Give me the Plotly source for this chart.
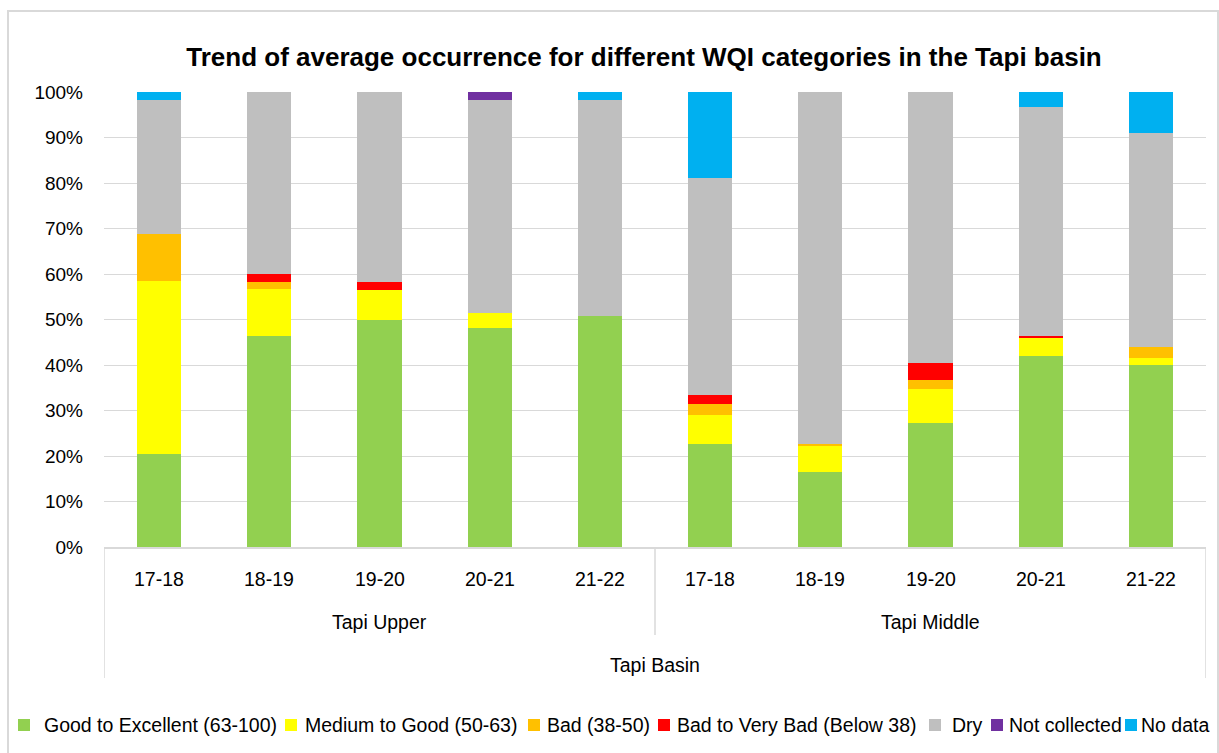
import plotly.graph_objects as go

# ---------------- data ----------------
years = ["17-18", "18-19", "19-20", "20-21", "21-22"] * 2
groups = ["Tapi Upper", "Tapi Middle"]
basin = "Tapi Basin"
title = "Trend of average occurrence for different WQI categories in the Tapi basin"

series_names = ["Good to Excellent (63-100)", "Medium to Good (50-63)", "Bad (38-50)",
                "Bad to Very Bad (Below 38)", "Dry", "Not collected", "No data"]
series_colors = ["#92D050", "#FFFF00", "#FFC000", "#FF0000", "#BFBFBF", "#7030A0", "#00B0F0"]

good      = [20.4, 46.4, 49.9, 48.1, 50.7, 22.6, 16.4, 27.2, 41.9, 39.9]
medium    = [38.1, 10.2,  6.6,  3.4,  0.0,  6.4,  5.7,  7.5,  4.0,  1.6]
bad       = [10.3,  1.6,  0.0,  0.0,  0.0,  2.5,  0.5,  1.9,  0.0,  2.5]
very_bad  = [ 0.0,  1.7,  1.7,  0.0,  0.0,  2.0,  0.0,  3.9,  0.5,  0.0]
dry       = [29.4, 40.1, 41.8, 46.7, 47.5, 47.7, 77.4, 59.5, 50.2, 47.1]
not_coll  = [ 0.0,  0.0,  0.0,  1.8,  0.0,  0.0,  0.0,  0.0,  0.0,  0.0]
no_data   = [ 1.8,  0.0,  0.0,  0.0,  1.8, 18.8,  0.0,  0.0,  3.4,  8.9]
series_values = [good, medium, bad, very_bad, dry, not_coll, no_data]

# ---------------- layout constants ----------------
FONT = "Liberation Sans, Arial, sans-serif"
FS = 19.5
W, H = 1219, 753
L, R, T, B = 104, 13, 92, 206
PH = H - T - B
PW = W - L - R
GRID = "#D9D9D9"

def py(pix):  # pixel y -> paper y
    return (H - B - pix) / PH

def px(pix):  # pixel x -> paper x
    return (pix - L) / PW

xs = list(range(len(years)))
fig = go.Figure()
for name, color, vals in zip(series_names, series_colors, series_values):
    fig.add_trace(go.Bar(
        x=xs, y=[v / 100 for v in vals], name=name,
        marker=dict(color=color, line=dict(width=0)),
        width=0.4, showlegend=False,
    ))

annotations = []
# year labels
for i, yr in enumerate(years):
    annotations.append(dict(x=i, y=py(579), xref="x", yref="paper", text=yr, showarrow=False,
                            yanchor="middle", font=dict(family=FONT, size=FS, color="#000")))
# group labels
for gi, g in enumerate(groups):
    annotations.append(dict(x=gi * 5 + 2, y=py(622), xref="x", yref="paper", text=g, showarrow=False,
                            yanchor="middle", font=dict(family=FONT, size=FS, color="#000")))
annotations.append(dict(x=4.5, y=py(665), xref="x", yref="paper", text=basin, showarrow=False,
                        yanchor="middle", font=dict(family=FONT, size=FS, color="#000")))

# manual legend (layout positions)
leg_square_left = [18, 285, 528, 658, 929, 991, 1125]
leg_text_left = [42, 303, 545, 675, 950, 1007, 1139]
shapes = []
for name, color, sl, tl in zip(series_names, series_colors, leg_square_left, leg_text_left):
    shapes.append(dict(type="rect", xref="paper", yref="paper",
                       x0=px(sl), x1=px(sl + 12), y0=py(731), y1=py(719),
                       fillcolor=color, line=dict(width=0)))
    annotations.append(dict(x=px(tl), y=py(725), xref="paper", yref="paper", text=name,
                            showarrow=False, xanchor="left", yanchor="middle",
                            font=dict(family=FONT, size=FS, color="#000")))

# category axis divider lines
shapes += [
    dict(type="line", xref="x", yref="paper", x0=-0.5, x1=-0.5, y0=0, y1=py(678),
         line=dict(color=GRID, width=1.5)),
    dict(type="line", xref="x", yref="paper", x0=4.5, x1=4.5, y0=0, y1=py(635),
         line=dict(color=GRID, width=1.5)),
    dict(type="line", xref="x", yref="paper", x0=9.5, x1=9.5, y0=0, y1=py(678),
         line=dict(color=GRID, width=1.5)),
    # outer chart border
    dict(type="rect", xref="paper", yref="paper", x0=px(8), x1=px(1218), y0=py(770), y1=py(11),
         line=dict(color=GRID, width=2), fillcolor="rgba(0,0,0,0)", layer="below"),
]

fig.update_layout(
    width=W, height=H,
    margin=dict(l=L, r=R, t=T, b=B),
    barmode="stack",
    plot_bgcolor="white", paper_bgcolor="white",
    title=dict(text="<b>" + title + "</b>", x=644 / W, xanchor="center", y=1 - 57 / H, yanchor="middle",
               font=dict(family=FONT, size=26, color="#000")),
    xaxis=dict(range=[-0.5, 9.5], tickvals=xs, showticklabels=False, showgrid=False,
               showline=True, linecolor=GRID, linewidth=1.5, zeroline=False, fixedrange=True),
    yaxis=dict(range=[0, 1], dtick=0.1, tickformat=".0%", showgrid=True, gridcolor=GRID, gridwidth=1.3,
               zeroline=False, showline=False, ticklabelstandoff=20,
               tickfont=dict(family=FONT, size=19, color="#000")),
    annotations=annotations,
    shapes=shapes,
    showlegend=False,
)

fig.write_html("out.html", config={"displayModeBar": False},
               post_script="document.body.style.margin='0';document.body.style.overflow='hidden';")
